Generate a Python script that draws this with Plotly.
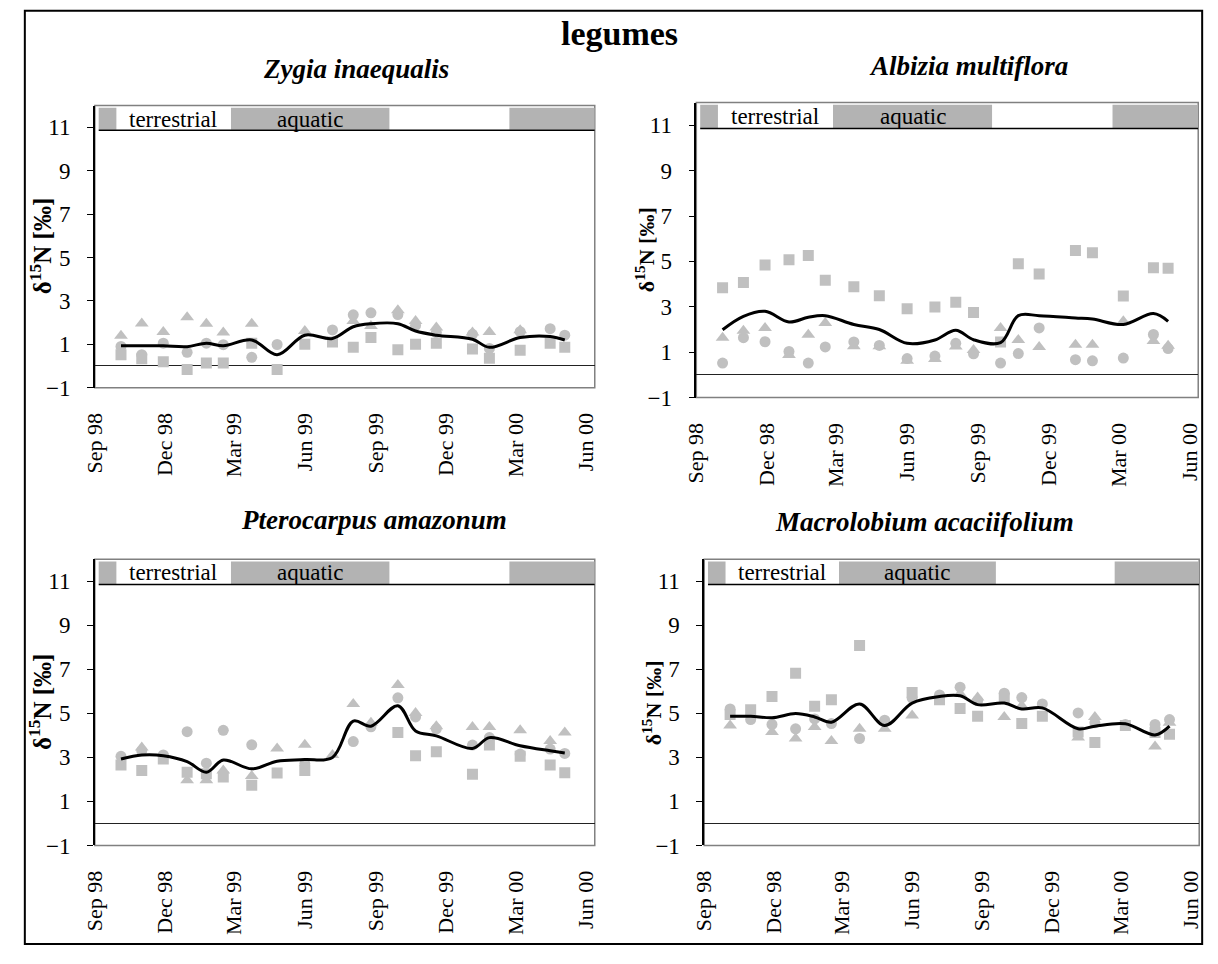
import pandas as pd
import plotly.graph_objects as go

W, H = 1218, 964
SERIF = "Liberation Serif, Times New Roman, serif"
GREY_MARK = "#c0c0c0"
GREY_BAND = "#b3b3b3"

# ---- sampling dates (same for all four species) ----
dates = ['1998-10-05', '1998-11-01', '1998-11-29', '1998-12-30', '1999-01-24',
         '1999-02-15', '1999-03-24', '1999-04-26', '1999-06-01', '1999-07-07',
         '1999-08-03', '1999-08-26', '1999-09-30', '1999-10-23', '1999-11-19',
         '2000-01-05', '2000-01-27', '2000-03-07', '2000-04-15', '2000-05-04']

tick_dates = ['1998-09-01', '1998-12-01', '1999-03-01', '1999-06-01',
              '1999-09-01', '1999-12-01', '2000-03-01', '2000-06-01']
tick_text = ['Sep 98', 'Dec 98', 'Mar 99', 'Jun 99', 'Sep 99', 'Dec 99', 'Mar 00', 'Jun 00']
y_ticks = [-1, 1, 3, 5, 7, 9, 11]
x_range = ['1998-09-01', '2000-06-12']

# hydrological phases shown in the strip at the top of each panel
phase_starts = ['1998-09-06', '1998-09-29', '1999-02-25', '1999-09-19', '2000-02-22']
phase_ends = ['1998-09-29', '1999-02-25', '1999-09-19', '2000-02-22', '2000-06-12']
phase_shaded = [True, False, True, False, True]
phase_labels = ['', 'terrestrial', 'aquatic', '', '']

species = ['Zygia inaequalis', 'Albizia multiflora',
           'Pterocarpus amazonum', 'Macrolobium acaciifolium']

# ---- delta 15N values: three trees (square, triangle, circle) and the mean curve ----
zygia_sq = [0.52, 0.33, 0.20, -0.16, 0.14, 0.14, 1.05, -0.16, 1.00, 1.11,
            0.86, 1.31, 0.75, 1.00, 1.05, 0.78, 0.36, 0.73, 1.05, 0.86]
zygia_tri = [1.39, 1.96, 1.57, 2.25, 1.95, 1.54, 1.95, None, 1.61, None,
             2.07, 1.84, 2.57, 2.07, 1.77, 1.54, 1.57, 1.65, None, None]
zygia_circ = [0.90, 0.52, 1.05, 0.63, 1.05, 0.98, 0.40, 0.99, None, 1.66,
              2.36, 2.45, 2.37, 1.87, 1.54, 1.46, 0.81, 1.58, 1.72, 1.42]
zygia_mean = [0.93, 0.93, 0.93, 0.89, 1.05, 0.93, 1.20, 0.52, 1.42, 1.27,
              1.81, 1.95, 1.95, 1.61, 1.42, 1.23, 0.86, 1.31, 1.36, 1.20]

albizia_sq = [3.84, 4.07, 4.84, 5.07, 5.26, 4.17, 3.88, 3.49, 2.91, 2.99,
              3.20, 2.75, 1.45, 4.90, 4.45, 5.48, 5.38, 3.48, 4.72, 4.70]
albizia_tri = [1.64, 1.95, 2.07, 0.88, 1.77, 2.29, 1.26, 1.26, 0.62, 0.70,
               1.25, 1.10, 2.07, 1.54, 1.23, 1.33, 1.33, 2.36, 1.49, 1.28]
albizia_circ = [0.52, 1.64, 1.46, 1.03, 0.52, 1.23, 1.45, 1.30, 0.72, 0.83,
                1.39, 0.93, 0.52, 0.94, 2.07, 0.67, 0.62, 0.74, 1.78, 1.16]
albizia_mean = [1.99, 2.58, 2.80, 2.33, 2.54, 2.61, 2.22, 2.00, 1.39, 1.54,
                1.97, 1.55, 1.42, 2.61, 2.61, 2.51, 2.46, 2.22, 2.70, 2.36]

ptero_sq = [2.66, 2.41, 2.93, 2.33, 2.26, 2.11, 1.73, 2.29, 2.41, None,
            None, None, 4.13, 3.08, 3.26, 2.23, 3.56, 3.05, 2.66, 2.30]
ptero_tri = [None, 3.45, None, 1.96, 1.96, 2.41, 2.15, 3.41, 3.57, 3.11,
             5.43, 4.57, 6.29, 5.02, 4.42, 4.38, 4.38, 4.23, 3.75, 4.13]
ptero_circ = [3.05, 3.30, 3.11, 4.17, 2.74, 4.23, 3.57, None, 2.71, None,
              3.72, 4.39, 5.71, 4.84, 4.30, 3.56, 3.90, 3.15, 3.38, 3.18]
ptero_mean = [2.93, 3.11, 3.08, 2.81, 2.33, 2.88, 2.48, 2.83, 2.90, 3.00,
              4.65, 4.42, 5.35, 4.20, 3.98, 3.41, 3.90, 3.53, 3.30, 3.20]

macro_sq = [4.95, 5.17, 5.77, 6.82, 5.32, 5.62, 8.09, None, 5.95, 5.62,
            5.22, 4.87, 5.70, 4.54, 4.87, 4.16, 3.68, 4.45, 4.13, 4.05]
macro_tri = [4.45, None, 4.16, 3.86, 4.38, 3.75, 4.30, 4.30, 4.90, None,
             5.89, 5.72, 4.84, 5.35, None, 3.90, 4.84, None, 3.50, 4.57]
macro_circ = [5.20, 4.72, 4.50, 4.30, 4.75, 4.54, 3.86, 4.69, 5.70, 5.84,
              6.19, 5.58, 5.92, 5.72, 5.43, 5.02, 4.57, 4.50, 4.50, 4.72]
macro_mean = [4.87, 4.87, 4.80, 4.99, 4.84, 4.60, 5.43, 4.45, 5.47, 5.77,
              5.80, 5.40, 5.47, 5.20, 5.25, 4.30, 4.42, 4.53, 4.02, 4.42]

series = [
    (zygia_sq, zygia_tri, zygia_circ, zygia_mean),
    (albizia_sq, albizia_tri, albizia_circ, albizia_mean),
    (ptero_sq, ptero_tri, ptero_circ, ptero_mean),
    (macro_sq, macro_tri, macro_circ, macro_mean),
]

# ---- panel placement in pixels: (left, right, top, bottom) ----
boxes = [(83, 590, 107, 393), (693, 1202, 104, 403),
         (83, 590, 567, 857), (701, 1203, 567, 857)]
title_pos = [(348, 70), (969, 67), (366, 527), (924, 529)]
ytitle_x = [28, 641, 28, 648]
ytitle_size = [25, 22, 25, 22]


def px_x(v):
    return v / W


def px_y(v):
    return 1 - v / H


fig = go.Figure()
shapes = []
annotations = []

for i, (sq, tri, circ, mean) in enumerate(series):
    n = i + 1
    xa = 'x' if n == 1 else f'x{n}'
    ya = 'y' if n == 1 else f'y{n}'
    for vals, sym, size in ((sq, 'square', 11), (tri, 'triangle-up', 12), (circ, 'circle', 11)):
        fig.add_trace(go.Scatter(
            x=dates, y=vals, mode='markers', xaxis=xa, yaxis=ya,
            marker=dict(symbol=sym, size=size, color=GREY_MARK, line=dict(width=0)),
            showlegend=False, hoverinfo='skip'))
    fig.add_trace(go.Scatter(
        x=dates, y=mean, mode='lines', xaxis=xa, yaxis=ya,
        line=dict(color='black', width=3, shape='spline', smoothing=1.0),
        showlegend=False, hoverinfo='skip'))

    left, right, top, bottom = boxes[i]
    key = '' if n == 1 else str(n)
    fig.layout['xaxis' + key] = dict(
        domain=[px_x(left), px_x(right)], anchor=ya, type='date', range=x_range,
        tickvals=tick_dates, ticktext=tick_text, tickangle=-90, ticks='',
        ticklabelstandoff=20, showgrid=False, showline=False, zeroline=False,
        tickfont=dict(family=SERIF, size=22, color='black'))
    fig.layout['yaxis' + key] = dict(
        domain=[px_y(bottom), px_y(top)], anchor=xa, range=[-1, 12],
        tickvals=y_ticks, ticks='outside', ticklen=6, tickcolor='black', tickwidth=1,
        ticklabelstandoff=12, showgrid=False, showline=True, linecolor='black',
        linewidth=1.5, zeroline=True, zerolinecolor='#222222', zerolinewidth=1,
        tickfont=dict(family=SERIF, size=23, color='black'))

    # grey plot-area frame
    shapes.append(dict(type='rect', xref='paper', yref='paper',
                       x0=px_x(left), x1=px_x(right), y0=px_y(bottom), y1=px_y(top),
                       line=dict(color='#808080', width=1.5), layer='below'))

    # phase strip along the top
    for s, e, shaded, lab in zip(phase_starts, phase_ends, phase_shaded, phase_labels):
        if shaded:
            shapes.append(dict(type='rect', xref=xa, yref=ya, x0=s, x1=e, y0=10.88, y1=11.9,
                               fillcolor=GREY_BAND, line=dict(width=0), layer='below'))
        if lab:
            mid = pd.Timestamp(s) + (pd.Timestamp(e) - pd.Timestamp(s)) / 2
            annotations.append(dict(xref=xa, yref=ya, x=mid.strftime('%Y-%m-%d'), y=11.38,
                                    text=lab, showarrow=False,
                                    font=dict(family=SERIF, size=23, color='black')))
    shapes.append(dict(type='line', xref=xa, yref=ya, x0=phase_starts[0], x1=phase_ends[-1],
                       y0=10.86, y1=10.86, line=dict(color='black', width=1.5)))

    # species name
    tx, ty = title_pos[i]
    annotations.append(dict(xref='paper', yref='paper', x=px_x(tx), y=px_y(ty),
                            text=f'<b><i>{species[i]}</i></b>', showarrow=False,
                            xanchor='center', yanchor='middle',
                            font=dict(family=SERIF, size=27, color='black')))
    # y-axis title
    annotations.append(dict(xref='paper', yref='paper', x=px_x(ytitle_x[i]),
                            y=px_y((top + bottom) / 2), textangle=-90,
                            text='<b>\u03b4<sup>15</sup>N [\u2030]</b>', showarrow=False,
                            xanchor='center', yanchor='middle',
                            font=dict(family=SERIF, size=ytitle_size[i], color='black')))

# overall heading and outer frame
annotations.append(dict(xref='paper', yref='paper', x=px_x(615), y=px_y(34),
                        text='<b>legumes</b>', showarrow=False,
                        xanchor='center', yanchor='middle',
                        font=dict(family=SERIF, size=34, color='black')))
shapes.append(dict(type='rect', xref='paper', yref='paper',
                   x0=px_x(12), x1=px_x(1206), y0=px_y(957), y1=px_y(11),
                   line=dict(color='black', width=2)))

fig.update_layout(width=W, height=H, margin=dict(l=0, r=0, t=0, b=0),
                  paper_bgcolor='white', plot_bgcolor='white',
                  shapes=shapes, annotations=annotations, showlegend=False)

fig.write_html("out.html")
